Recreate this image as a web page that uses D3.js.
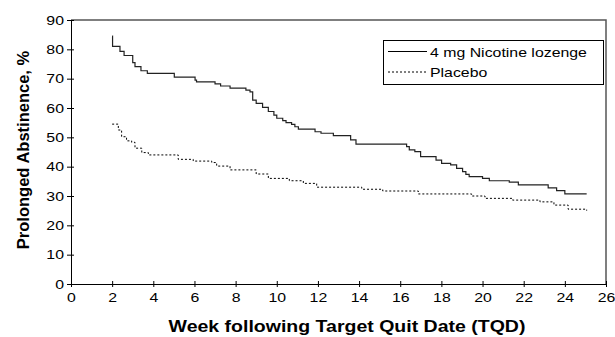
<!DOCTYPE html>
<html>
<head>
<meta charset="utf-8">
<script src="https://cdn.jsdelivr.net/npm/d3@7"></script>
<style>
  body { margin: 0; background: #fff; }
  svg { display: block; font-family: "Liberation Sans", Arial, sans-serif; }
</style>
</head>
<body>
<svg id="chart" width="615" height="337"></svg>
<script>
// Kaplan-Meier style step data
const lozengeWeeks = [2.0, 2.02, 2.38, 2.58, 3.0, 3.11, 3.4, 3.71, 5.02, 6.03, 6.1, 7.0, 7.27, 7.73, 8.5, 8.7, 8.83, 9.0, 9.31, 9.59, 9.86, 10.0, 10.29, 10.45, 10.72, 10.88, 11.05, 11.86, 12.15, 12.75, 13.59, 13.85, 16.31, 16.44, 16.71, 16.99, 17.74, 18.01, 18.45, 18.74, 19.03, 19.19, 19.35, 20.0, 20.33, 21.3, 21.74, 23.19, 23.6, 24.0, 25.06]
const lozengeValues = [84.5, 81, 79.3, 77.9, 75.5, 74.1, 72.7, 71.8, 70.5, 69.5, 68.9, 68.2, 67.5, 66.8, 66.1, 65.5, 62.7, 61.6, 60.2, 58.8, 57.6, 56.5, 55.7, 55.0, 54.4, 53.6, 52.8, 51.9, 51.4, 50.6, 49.1, 47.7, 46.8, 45.7, 45.1, 43.4, 42.2, 41.1, 40.6, 39.4, 38.3, 37.4, 36.6, 36.0, 35.2, 34.7, 33.8, 32.8, 31.8, 30.7, 30.7]

const placeboWeeks = [2.0, 2.3, 2.46, 2.7, 2.95, 3.11, 3.44, 3.76, 5.21, 5.94, 6.84, 7.08, 7.73, 9.0, 9.59, 10.61, 11.29, 11.94, 14.13, 15.15, 16.88, 19.47, 20.12, 21.46, 22.79, 23.47, 24.16, 25.06]
const placeboValues = [54.5, 52.5, 50.2, 48.8, 48.3, 46.3, 44.8, 44.0, 42.5, 41.9, 41.4, 40.2, 38.9, 37.5, 36.0, 35.2, 34.3, 33.0, 32.3, 31.7, 30.7, 30.0, 29.2, 28.6, 28.0, 26.9, 25.5, 25.0]

const xTicks = d3.range(0, 27, 2)
const yTicks = d3.range(0, 91, 10)
const seriesNames = ["4 mg Nicotine lozenge", "Placebo"]

const margin = {top: 20, right: 9, bottom: 53, left: 71}
const W = 615, H = 337
const SX = 1.22   // the source figure's lettering is stretched sideways
const svg = d3.select("#chart")

const x = d3.scaleLinear().domain([0, 26]).range([margin.left, W - margin.right])
const y = d3.scaleLinear().domain([0, 90]).range([H - margin.bottom, margin.top])

// frame: top and right edges
svg.append("path")
    .attr("d", `M${x(0)},${y(90)}H${x(26)}V${y(0)}`)
    .attr("fill", "none")
    .attr("stroke", "#555")
    .attr("stroke-width", 1.5)

const xAxis = svg.append("g")
    .attr("transform", `translate(0,${y(0)})`)
    .call(d3.axisBottom(x).tickValues(xTicks).tickSize(4).tickSizeOuter(0))
const yAxis = svg.append("g")
    .attr("transform", `translate(${x(0)},0)`)
    .call(d3.axisLeft(y).tickValues(yTicks).tickSize(4).tickSizeOuter(0))

// ticks straddle the axis line like the original
xAxis.selectAll(".tick line").attr("y1", -3).attr("y2", 3)
yAxis.selectAll(".tick line").attr("x1", -4).attr("x2", 3)
svg.selectAll(".domain").attr("stroke", "#000")
svg.selectAll(".tick line").attr("stroke", "#000")
xAxis.selectAll("text")
    .attr("font-size", 13).attr("fill", "#000").attr("font-family", null)
    .attr("y", 9).attr("transform", `scale(${SX},1)`)
yAxis.selectAll("text")
    .attr("font-size", 13).attr("fill", "#000").attr("font-family", null)
    .attr("x", -7 / SX).attr("transform", `scale(${SX},1)`)

// axis titles
svg.append("text")
    .attr("transform", `translate(347,332) scale(${SX},1)`)
    .attr("text-anchor", "middle")
    .attr("font-size", 16).attr("font-weight", "bold")
    .text("Week following Target Quit Date (TQD)")
svg.append("text")
    .attr("transform", `translate(29,150) rotate(-90)`)
    .attr("text-anchor", "middle")
    .attr("font-size", 16.5).attr("font-weight", "bold")
    .text("Prolonged Abstinence, %")

const line = d3.line()
    .x(d => x(d[0]))
    .y(d => y(d[1]))
    .curve(d3.curveStepAfter)

svg.append("path")
    .datum(d3.zip(lozengeWeeks, lozengeValues))
    .attr("fill", "none")
    .attr("stroke", "#222")
    .attr("stroke-width", 1.2)
    .attr("d", line)

svg.append("path")
    .datum(d3.zip(placeboWeeks, placeboValues))
    .attr("fill", "none")
    .attr("stroke", "#000")
    .attr("stroke-width", 1)
    .attr("stroke-dasharray", "2 2")
    .attr("d", line)

// legend
const lg = svg.append("g")
lg.append("rect")
    .attr("x", 383.5).attr("y", 40.5).attr("width", 220).attr("height", 44)
    .attr("fill", "#fff").attr("stroke", "#000")
seriesNames.forEach((name, i) => {
    const ly = 51.5 + i * 20.5
    lg.append("line")
        .attr("x1", 388).attr("x2", 427).attr("y1", ly).attr("y2", ly)
        .attr("stroke", "#000").attr("stroke-width", 1)
        .attr("stroke-dasharray", i ? "2 2" : null)
    lg.append("text")
        .attr("transform", `translate(430,${ly + 5}) scale(${SX},1)`)
        .attr("font-size", 13)
        .text(name)
})
</script>
</body>
</html>
